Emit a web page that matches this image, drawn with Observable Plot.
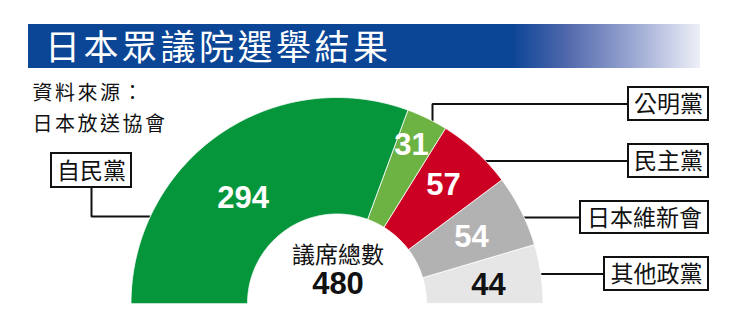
<!DOCTYPE html>
<html><head><meta charset="utf-8">
<script src="https://cdn.jsdelivr.net/npm/d3@7"></script>
<script src="https://cdn.jsdelivr.net/npm/@observablehq/plot@0.6"></script>
<style>
body{margin:0;background:#fff;}
#head{position:relative;width:737px;height:70px;}
#bar{position:absolute;left:28px;top:24px;width:672px;height:44px;
 background:linear-gradient(to right,#0b4596 0%,#0b4596 72%,#4f67ab 80%,#9aa7d2 90%,#eef0f8 100%);}
#bar span{position:absolute;left:17px;top:-1px;color:#fff;font-family:"Noto Sans CJK TC";font-size:35px;line-height:44px;letter-spacing:3.5px;white-space:nowrap;}
#chart svg{display:block;}
</style></head>
<body>
<div id="head"><div id="bar"><span id="title"></span></div></div>
<div id="chart"></div>
<script>
// ---- data ----
const titleText = "日本眾議院選舉結果";
const sourceLines = ["資料來源：", "日本放送協會"];
const parties = ["自民黨", "公明黨", "民主黨", "日本維新會", "其他政黨"];
const seats = [294, 31, 57, 54, 44];
const totalLabel = "議席總數";
const totalSeats = 480;

// ---- styles ----
const sliceColors = ["#05963c", "#6cb344", "#cc0022", "#b2b2b2", "#e6e6e6"];
const numberColors = ["#ffffff", "#ffffff", "#ffffff", "#ffffff", "#111111"];

document.getElementById("title").textContent = titleText;

// ---- layout ----
const W = 737, H = 257;
const cx = 336.5, cy = 233, R = 206, r0 = 89.5;
const total = d3.sum(seats);
let acc = 0;
const slices = parties.map((p, i) => {
  const a0 = Math.PI * (1 - acc / total);
  acc += seats[i];
  const a1 = Math.PI * (1 - acc / total);
  return {party: p, seats: seats[i], a0, a1, i};
});
const pts = slices.flatMap(s => {
  const n = Math.max(10, Math.ceil((s.a0 - s.a1) * 90));
  const out = [];
  for (let k = 0; k <= n; k++) {
    const a = s.a0 + (s.a1 - s.a0) * k / n;
    out.push({party: s.party, x: cx + R * Math.cos(a), y: cy - R * Math.sin(a)});
  }
  for (let k = n; k >= 0; k--) {
    const a = s.a0 + (s.a1 - s.a0) * k / n;
    out.push({party: s.party, x: cx + r0 * Math.cos(a), y: cy - r0 * Math.sin(a)});
  }
  return out;
});

// label placement tweaks (radius px, angle nudge deg)
const labelTweak = {
  "自民黨": {r: 141, da: 6.9},
  "公明黨": {r: 175, da: 0.9},
  "民主黨": {r: 159, da: 0.5},
  "日本維新會": {r: 150, da: -0.4},
  "其他政黨": {r: 152.6, da: -1.25}
};
const numLabels = slices.map(s => {
  const t = labelTweak[s.party];
  const a = (s.a0 + s.a1) / 2 + t.da * Math.PI / 180;
  return {text: String(s.seats), x: cx + t.r * Math.cos(a), y: cy - t.r * Math.sin(a), color: numberColors[s.i]};
});

const arcX = (y, side) => cx + side * Math.sqrt(R * R - (cy - y) * (cy - y));
const arcY = x => cy - Math.sqrt(R * R - (x - cx) * (x - cx));

const boxes = {
  "自民黨": {x1: 51, x2: 131, y1: 83, y2: 117},
  "公明黨": {x1: 628, x2: 708, y1: 17, y2: 50},
  "民主黨": {x1: 628, x2: 708, y1: 74, y2: 107},
  "日本維新會": {x1: 580, x2: 708, y1: 131, y2: 163},
  "其他政黨": {x1: 604, x2: 708, y1: 187, y2: 220}
};
const boxData = parties.map(p => ({party: p, ...boxes[p]}));
const leaders = [];
{
  const b = boxes["自民黨"], mx = (b.x1 + b.x2) / 2, ly = 146;
  [[mx, b.y2], [mx, ly], [arcX(ly, -1), ly]].forEach(([x, y]) => leaders.push({party: "自民黨", x, y}));
  const k = boxes["公明黨"], ky = (k.y1 + k.y2) / 2, kx = 432;
  [[k.x1, ky], [kx, ky], [kx, arcY(kx) + 2]].forEach(([x, y]) => leaders.push({party: "公明黨", x, y}));
  ["民主黨", "日本維新會", "其他政黨"].forEach(p => {
    const bb = boxes[p], yy = (bb.y1 + bb.y2) / 2;
    [[bb.x1, yy], [arcX(yy, 1) - 2, yy]].forEach(([x, y]) => leaders.push({party: p, x, y}));
  });
}

const cjk = "Noto Sans CJK TC";
const num = "Liberation Sans, Arial, sans-serif";

const chart = Plot.plot({
  width: W, height: H,
  margin: 0,
  x: {type: "linear", domain: [0, W], range: [0, W], axis: null},
  y: {type: "linear", domain: [0, H], range: [0, H], axis: null},
  color: {domain: parties, range: sliceColors},
  style: {background: "#fff", fontFamily: cjk},
  marks: [
    Plot.line(leaders, {x: "x", y: "y", z: "party", stroke: "#111", strokeWidth: 2, strokeLinecap: "butt", strokeLinejoin: "miter"}),
    Plot.line(pts, {x: "x", y: "y", z: "party", fill: "party", stroke: "#fff", strokeWidth: 0.8, curve: "linear-closed"}),
    Plot.rect(boxData, {x1: "x1", x2: "x2", y1: "y1", y2: "y2", fill: "#fff", stroke: "#111", strokeWidth: 2}),
    Plot.text(boxData, {x: d => (d.x1 + d.x2) / 2, y: d => (d.y1 + d.y2) / 2 + 1, text: "party", fontSize: 23, fill: "#111", fontFamily: cjk}),
    Plot.text(numLabels, {x: "x", y: "y", text: "text", fill: "color", fontSize: 31, fontWeight: "bold", fontFamily: num}),
    Plot.text([totalLabel], {x: cx + 1, y: 185, text: d => d, fontSize: 23, fill: "#111", fontFamily: cjk}),
    Plot.text([totalSeats], {x: cx + 1, y: 214, text: d => String(d), fontSize: 31, fontWeight: "bold", fill: "#111", fontFamily: num}),
    Plot.text(sourceLines, {x: 32, y: (d, i) => 23 + i * 31, text: d => d, textAnchor: "start", fontSize: 20, fill: "#111", fontFamily: cjk})
  ]
});
d3.select(chart).selectAll("text").filter(function () { return sourceLines.includes(this.textContent); }).attr("letter-spacing", "2.5px");
document.getElementById("chart").appendChild(chart);
</script>
</body></html>
